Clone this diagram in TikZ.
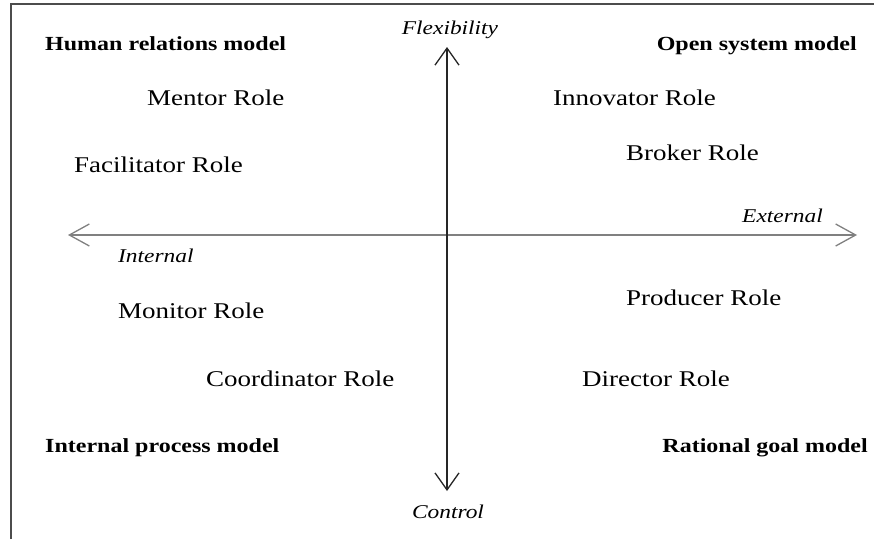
\documentclass[tikz,border=0pt]{standalone}
\usepackage{fontspec}
\setmainfont{Liberation Serif}[FakeStretch=1.2]
\usetikzlibrary{arrows.meta}
\tikzset{
  role/.style={inner sep=0pt, font=\fontsize{22.5}{26}\selectfont},
  model/.style={inner sep=0pt, font=\fontsize{20}{24}\selectfont\bfseries},
  axislabel/.style={inner sep=0pt, font=\fontsize{19.5}{23}\selectfont\itshape},
  axisv/.style={line width=1.5pt, color=black!85, {Straight Barb[length=17pt,width=24pt,line width=1.3pt]}-{Straight Barb[length=17pt,width=24pt,line width=1.3pt]}},
  axish/.style={line width=1.6pt, color=black!50, {Straight Barb[length=20pt,width=22pt,line width=1.3pt]}-{Straight Barb[length=20pt,width=22pt,line width=1.3pt]}},
  frameline/.style={line width=2pt, color=black!70}
}
\begin{document}
\begin{tikzpicture}[x=1pt,y=-1pt]
\useasboundingbox (0,0) rectangle (874,539);
\draw[frameline] (11,539) -- (11,4) -- (874,4);
% axes endpoints
\coordinate (vtop) at (447,47);
\coordinate (vbot) at (447,491);
\coordinate (hl) at (68,235);
\coordinate (hr) at (857,235);
\draw[axish] (hl) -- (hr);
\draw[axisv] (vbot) -- (vtop);
% axis labels
\node[axislabel, anchor=base] (flex) at (450,34) {Flexibility};
\node[axislabel, anchor=base] (ctrl) at (448,518) {Control};
\node[axislabel, anchor=base west] (ext) at (742,222) {External};
\node[axislabel, anchor=base west] (int) at (118,262) {Internal};
% models
\node[model, anchor=base west] (hrm) at (45,50) {Human relations model};
\node[model, anchor=base east] (osm) at (857,50) {Open system model};
\node[model, anchor=base west] (ipm) at (45,452) {Internal process model};
\node[model, anchor=base east] (rgm) at (868,452) {Rational goal model};
% roles
\node[role, anchor=base west] (mentor) at (147,105) {Mentor Role};
\node[role, anchor=base west] (innov) at (553,105) {Innovator Role};
\node[role, anchor=base west] (facil) at (74,172) {Facilitator Role};
\node[role, anchor=base west] (broker) at (626,160) {Broker Role};
\node[role, anchor=base west] (monitor) at (118,318) {Monitor Role};
\node[role, anchor=base west] (producer) at (626,305) {Producer Role};
\node[role, anchor=base west] (coord) at (206,386) {Coordinator Role};
\node[role, anchor=base west] (director) at (582,386) {Director Role};
\end{tikzpicture}
\end{document}
